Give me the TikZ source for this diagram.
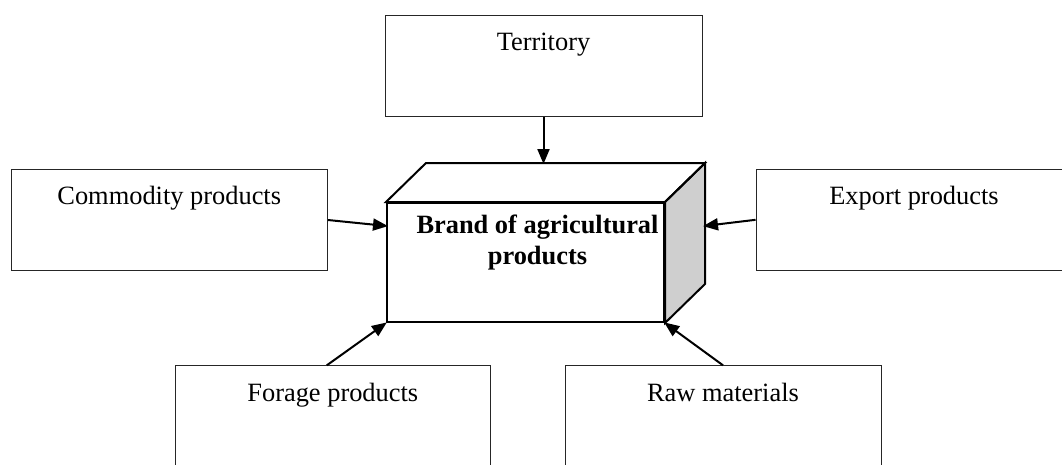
\documentclass[tikz,border=0pt]{standalone}
\usepackage{fontspec}
\setmainfont{Liberation Serif}
\usetikzlibrary{arrows.meta}
\begin{document}
\begin{tikzpicture}[x=1pt,y=-1pt,
  outer/.style={draw=black!85, line width=0.9pt, inner xsep=0pt, inner ysep=0pt,
    text height=35.5pt, text depth=66pt, font=\fontsize{26.4}{31.3}\selectfont},
  thickline/.style={draw=black, line width=2pt, line join=miter},
  conn/.style={line width=2pt, -{Triangle[length=15pt,width=12pt]}, shorten >=-1pt}]
\useasboundingbox (0,0) rectangle (1062,464);
\begin{scope}
\clip (0,0) rectangle (1062,464);
% outer boxes
\node[outer, minimum width=317pt] (terr) at (543.5,65.7) {Territory};
\node[outer, minimum width=316.5pt] (comm) at (169.25,220) {Commodity products};
\node[outer, minimum width=316pt] (exp) at (914,219.8) {Export products};
\node[outer, minimum width=315.6pt] (forage) at (332.8,416.5) {Forage products};
\node[outer, minimum width=316pt] (raw) at (723,416.5) {Raw materials};
% central box
\node[thickline, minimum width=277pt, minimum height=119pt, inner sep=0pt] (brand) at (525.5,262.5) {};
\coordinate (btl) at ([shift={(40,-39)}]brand.north west);
\coordinate (btr) at ([shift={(40,-39)}]brand.north east);
\coordinate (bbr) at ([shift={(40,-39)}]brand.south east);
\draw[thickline, fill=black!19] (brand.north east) -- (btr) -- (bbr) -- (brand.south east) -- cycle;
\draw[thickline] (brand.north west) -- (btl) -- (btr) -- (brand.north east) -- cycle;
\node[font=\fontsize{26.4}{31.3}\selectfont\bfseries, align=center, anchor=base, inner sep=0pt] (brandtext) at (537.5,264.5) {Brand of agricultural\\products};
% connectors
\coordinate (inL) at (387,226);
\coordinate (inR) at (704,226);
\draw[conn] (terr.south) -- (terr.south |- btl);
\draw[conn] (comm.east) -- (inL);
\draw[conn] (exp.west) -- (inR);
\draw[conn] ([xshift=-6pt]forage.north) -- (brand.south west);
\draw[conn] (raw.north) -- (brand.south east);
\end{scope}
\end{tikzpicture}
\end{document}
